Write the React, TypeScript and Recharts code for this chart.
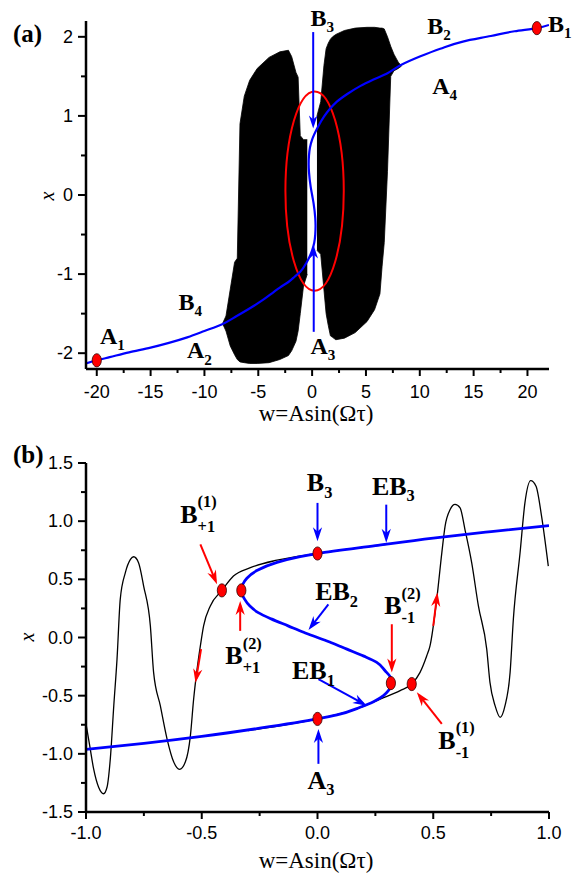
import { ComposedChart, Line, Area, Scatter, XAxis, YAxis, ReferenceLine, ReferenceDot, ReferenceArea } from 'recharts';

const SERIF = '"Liberation Serif", "Times New Roman", Times, serif';
const SANS = '"Liberation Sans", Arial, Helvetica, sans-serif';
const BLUE = '#0000ff';
const RED = '#ff0000';

// ---------- panel (a) ----------
// equilibrium curve, x against w
const curveW_a = [-21, -20, -18.8, -17, -15, -13.3, -11.6, -10, -8.3, -7, -5.4, -4.5, -3.6, -3, -2.2, -1.6, -1.1, -0.5, 0, 0.2, 0.29, 0.32, 0.29, 0.13, 0, -0.13, -0.29, -0.32, -0.29, -0.2, 0, 0.5, 1.1, 1.6, 2.3, 3.3, 4.5, 5.7, 7.0, 8.2, 10, 11.9, 14, 16.6, 18.8, 20.9, 22];
const curveX_a = [-2.13, -2.09, -2.05, -1.99, -1.93, -1.87, -1.8, -1.72, -1.63, -1.53, -1.4, -1.32, -1.23, -1.17, -1.1, -1.03, -0.97, -0.85, -0.7, -0.6, -0.5, -0.39, -0.29, -0.1, 0, 0.1, 0.29, 0.39, 0.5, 0.6, 0.7, 0.85, 0.99, 1.08, 1.18, 1.28, 1.38, 1.46, 1.54, 1.64, 1.75, 1.85, 1.94, 2.01, 2.07, 2.11, 2.15];

// envelope of the dense oscillation, left and right blocks
const leftW_a = [-8.3, -8.0, -7.6, -7.2, -6.95, -6.7, -6.3, -5.8, -5.1, -4.0, -3.0, -2.2, -1.9, -1.5, -1.3, -1.1, -0.8, -0.45];
const leftLow_a = [-1.63, -1.72, -1.91, -2.02, -2.08, -2.11, -2.12, -2.13, -2.13, -2.12, -2.08, -2.03, -1.97, -1.85, -1.72, -1.5, -1.15, -1.0];
const leftHigh_a = [-1.62, -1.53, -1.19, -0.85, -0.8, 0.9, 1.25, 1.45, 1.6, 1.74, 1.81, 1.83, 1.75, 1.55, 1.49, 0.75, 0.7, 0.7];
const rightW_a = [0.45, 0.8, 1.1, 1.3, 1.5, 1.7, 1.9, 2.2, 3.0, 4.0, 5.1, 5.8, 6.3, 6.5, 6.7, 7.0, 7.3, 7.6, 8.0, 8.3];
const rightLow_a = [-0.7, -0.75, -1.2, -1.5, -1.65, -1.78, -1.8, -1.83, -1.81, -1.74, -1.6, -1.45, -1.25, -0.9, -0.6, 0.3, 1.5, 1.57, 1.6, 1.63];
const rightHigh_a = [1.0, 1.18, 1.64, 1.85, 1.92, 1.97, 2.0, 2.03, 2.08, 2.11, 2.12, 2.12, 2.11, 2.11, 2.1, 2.0, 1.88, 1.78, 1.68, 1.63];

const dotW_a = [-20, 20.87];
const dotX_a = [-2.09, 2.11];

const xTicks_a = [-20, -17.5, -15, -12.5, -10, -7.5, -5, -2.5, 0, 2.5, 5, 7.5, 10, 12.5, 15, 17.5, 20];
const yTicks_a = [-2, -1.5, -1, -0.5, 0, 0.5, 1, 1.5, 2];

// ---------- panel (b) ----------
const curveW_b = [-1, -0.75, -0.5, -0.25, 0, 0.084, 0.184, 0.242, 0.285, 0.306, 0.318, 0.321, 0.315, 0.292, 0.256, 0.2, 0.127, 0.06, 0, -0.06, -0.127, -0.2, -0.256, -0.292, -0.315, -0.329, -0.322, -0.305, -0.262, -0.175, -0.075, 0, 0.25, 0.5, 0.75, 1];
const curveX_b = [-0.962, -0.91, -0.85, -0.78, -0.7, -0.666, -0.6, -0.552, -0.5, -0.457, -0.42, -0.386, -0.34, -0.286, -0.214, -0.16, -0.1, -0.045, 0, 0.045, 0.1, 0.16, 0.214, 0.27, 0.33, 0.405, 0.46, 0.51, 0.575, 0.645, 0.695, 0.722, 0.79, 0.855, 0.91, 0.962];

const blackW1_b = [-1, -0.984, -0.967, -0.945, -0.924, -0.909, -0.895, -0.88, -0.866, -0.852, -0.83, -0.808, -0.794, -0.773, -0.751, -0.722, -0.708, -0.679, -0.65, -0.621, -0.596, -0.571, -0.549, -0.535, -0.52, -0.506, -0.492, -0.463, -0.413, -0.363, -0.29, -0.175, 0, 0.3];
const blackX1_b = [-0.743, -0.93, -1.13, -1.29, -1.343, -1.285, -1.043, -0.586, -0.186, 0.33, 0.557, 0.671, 0.694, 0.643, 0.442, 0.1, -0.3, -0.586, -0.871, -1.071, -1.134, -1.071, -0.843, -0.529, -0.27, -0.072, 0.1, 0.271, 0.405, 0.528, 0.6, 0.665, 0.722, 0.8];
const blackW2_b = [-0.3, 0, 0.17, 0.271, 0.357, 0.407, 0.443, 0.472, 0.486, 0.515, 0.537, 0.551, 0.573, 0.594, 0.616, 0.637, 0.666, 0.695, 0.731, 0.745, 0.767, 0.789, 0.81, 0.832, 0.846, 0.875, 0.896, 0.921, 0.944, 0.968, 0.997];
const blackX2_b = [-0.8, -0.7, -0.614, -0.529, -0.457, -0.4, -0.3, -0.157, -0.072, 0.328, 0.728, 0.956, 1.1, 1.144, 1.114, 0.928, 0.643, 0.271, -0.1, -0.386, -0.586, -0.686, -0.586, -0.3, 0.157, 0.728, 1.157, 1.348, 1.3, 1.042, 0.614];

const dotW_b = [-0.413, -0.329, 0, 0.317, 0.407, 0];
const dotX_b = [0.405, 0.405, 0.722, -0.392, -0.4, -0.7];

const xTicks_b = [-1, -0.75, -0.5, -0.25, 0, 0.25, 0.5, 0.75, 1];
const yTicks_b = [-1.5, -1.25, -1, -0.75, -0.5, -0.25, 0, 0.25, 0.5, 0.75, 1, 1.25, 1.5];

// ---------- annotations ----------
const arrows_a = [
  { from: [0.1, 2.06], to: [0.1, 0.84], color: BLUE },
  { from: [0.15, -1.73], to: [0.15, -0.64], color: BLUE },
];
const labels_a = [
  { w: -0.16, x: 2.14, main: 'B', sub: '3' },
  { w: 10.7, x: 2.04, main: 'B', sub: '2' },
  { w: 11.16, x: 1.28, main: 'A', sub: '4' },
  { w: 21.9, x: 2.06, main: 'B', sub: '1' },
  { w: -19.7, x: -1.886, main: 'A', sub: '1' },
  { w: -12.4, x: -1.456, main: 'B', sub: '4' },
  { w: -11.63, x: -2.067, main: 'A', sub: '2' },
  { w: -0.16, x: -2.01, main: 'A', sub: '3' },
];
const ellipse_a = { w1: -2.48, w2: 2.94, x1: -1.21, x2: 1.31 };

const arrows_b = [
  { from: [-0.506, 0.8], to: [-0.434, 0.458], color: RED },
  { from: [-0.334, 0.057], to: [-0.334, 0.314], color: RED },
  { from: [-0.503, -0.1], to: [-0.527, -0.39], color: RED },
  { from: [0.5, 0.1], to: [0.518, 0.386], color: RED },
  { from: [0.321, 0.114], to: [0.321, -0.3], color: RED },
  { from: [0.537, -0.743], to: [0.429, -0.471], color: RED },
  { from: [0, 1.157], to: [0, 0.828], color: BLUE },
  { from: [0.297, 1.142], to: [0.297, 0.814], color: BLUE },
  { from: [0.047, 0.285], to: [-0.039, 0.065], color: BLUE },
  { from: [0.004, -0.357], to: [0.213, -0.586], color: BLUE },
  { from: [0.004, -1.086], to: [0.004, -0.786], color: BLUE },
];
const labels_b = [
  { w: -0.593, x: 0.988, main: 'B', sup: '(1)', sub: '+1' },
  { w: -0.046, x: 1.256, main: 'B', sub: '3' },
  { w: 0.235, x: 1.228, main: 'EB', sub: '3' },
  { w: -0.01, x: 0.32, main: 'EB', sub: '2' },
  { w: 0.288, x: 0.2, main: 'B', sup: '(2)', sub: '-1' },
  { w: -0.398, x: -0.229, main: 'B', sup: '(2)', sub: '+1' },
  { w: -0.11, x: -0.357, main: 'EB', sub: '1' },
  { w: -0.043, x: -1.3, main: 'A', sub: '3' },
  { w: 0.522, x: -0.957, main: 'B', sup: '(1)', sub: '-1' },
];

const zip = (w: number[], x: number[]) => w.map((v, i) => ({ w: v, x: x[i] }));
const band = (w: number[], lo: number[], hi: number[]) => w.map((v, i) => ({ w: v, range: [lo[i], hi[i]] }));

const axisStyle = { stroke: '#000', strokeWidth: 2.5 };

const xTick = (isMajor: (v: number) => boolean, fmt: (v: number) => string, gap: number, size: number) => (p: any) => {
  const { x, y, payload } = p;
  const major = isMajor(payload.value);
  return (
    <g>
      <line x1={x} y1={y} x2={x} y2={y + (major ? 7 : 4)} stroke="#000" strokeWidth={2} />
      {major && (
        <text x={x} y={y + gap} textAnchor="middle" style={{ fontFamily: SANS }} fontSize={size} fill="#000">
          {fmt(payload.value)}
        </text>
      )}
    </g>
  );
};

const yTick = (isMajor: (v: number) => boolean, fmt: (v: number) => string, size: number) => (p: any) => {
  const { x, y, payload } = p;
  const major = isMajor(payload.value);
  return (
    <g>
      <line x1={x - (major ? 8 : 5)} y1={y} x2={x} y2={y} stroke="#000" strokeWidth={2} />
      {major && (
        <text x={x - 13} y={y + 6} textAnchor="end" style={{ fontFamily: SANS }} fontSize={size} fill="#000">
          {fmt(payload.value)}
        </text>
      )}
    </g>
  );
};

const arrowShape = (color: string, head: number) => (p: any) => {
  const { x1, y1, x2, y2 } = p;
  const dx = x2 - x1;
  const dy = y2 - y1;
  const len = Math.hypot(dx, dy) || 1;
  const ux = dx / len;
  const uy = dy / len;
  const bx = x2 - ux * head;
  const by = y2 - uy * head;
  const hw = head * 0.33;
  const nx = x2 - ux * head * 0.7;
  const ny = y2 - uy * head * 0.7;
  return (
    <g>
      <line x1={x1} y1={y1} x2={x2 - ux * 4} y2={y2 - uy * 4} stroke={color} strokeWidth={2} />
      <polygon
        points={`${x2},${y2} ${bx - uy * hw},${by + ux * hw} ${nx},${ny} ${bx + uy * hw},${by - ux * hw}`}
        fill={color}
      />
    </g>
  );
};

const letterWidth: Record<string, number> = { A: 0.722, B: 0.667, E: 0.667 };

const labelShape = (l: any, size: number) => (p: any) => {
  const { cx, cy } = p;
  const mw = l.main.split('').reduce((s: number, c: string) => s + (letterWidth[c] || 0.6), 0) * size;
  const small = size * 0.63;
  return (
    <g style={{ fontFamily: SERIF }} fontWeight="bold" fill="#000">
      <text x={cx} y={cy} fontSize={size}>{l.main}</text>
      {l.sup && <text x={cx + mw} y={cy - size * 0.6} fontSize={small}>{l.sup}</text>}
      {l.sub && <text x={cx + mw} y={cy + size * (l.sup ? 0.35 : 0.26)} fontSize={small}>{l.sub}</text>}
    </g>
  );
};

const redDot = (p: any) => (
  <ellipse cx={p.cx} cy={p.cy} rx={4.6} ry={6.6} fill={RED} stroke="#300" strokeWidth={0.8} />
);

const ellipseShape = (p: any) => (
  <ellipse cx={p.x + p.width / 2} cy={p.y + p.height / 2} rx={p.width / 2} ry={p.height / 2} fill="none" stroke={RED} strokeWidth={2} />
);

function PanelA() {
  return (
    <ComposedChart width={579} height={428} margin={{ top: 21, right: 30, bottom: 0, left: 0 }}>
      <XAxis
        type="number" dataKey="w" domain={[-21, 22]} ticks={xTicks_a} interval={0} allowDataOverflow
        tickSize={0} tickMargin={0} tickLine={false} axisLine={axisStyle} height={59}
        tick={xTick((v) => v % 5 === 0, (v) => String(v), 29, 18)}
      />
      <YAxis
        type="number" dataKey="x" domain={[-2.2, 2.2]} ticks={yTicks_a} interval={0} allowDataOverflow
        tickSize={0} tickMargin={0} tickLine={false} axisLine={axisStyle} width={86}
        tick={yTick((v) => Number.isInteger(v), (v) => String(v), 18)}
      />
      <Area data={band(leftW_a, leftLow_a, leftHigh_a)} dataKey="range" type="linear" stroke="#000" strokeWidth={0.8} fill="#000" fillOpacity={1} isAnimationActive={false} dot={false} activeDot={false} />
      <Area data={band(rightW_a, rightLow_a, rightHigh_a)} dataKey="range" type="linear" stroke="#000" strokeWidth={0.8} fill="#000" fillOpacity={1} isAnimationActive={false} dot={false} activeDot={false} />
      <ReferenceArea x1={ellipse_a.w1} x2={ellipse_a.w2} y1={ellipse_a.x1} y2={ellipse_a.x2} shape={ellipseShape} ifOverflow="visible" />
      <Line data={zip(curveW_a, curveX_a)} dataKey="x" type="monotoneY" stroke={BLUE} strokeWidth={2.2} dot={false} activeDot={false} isAnimationActive={false} />
      {arrows_a.map((a, i) => (
        <ReferenceLine key={'aa' + i} segment={[{ x: a.from[0], y: a.from[1] }, { x: a.to[0], y: a.to[1] }]} shape={arrowShape(a.color, 13)} ifOverflow="visible" />
      ))}
      <Scatter data={zip(dotW_a, dotX_a)} dataKey="x" shape={redDot} isAnimationActive={false} />
      {labels_a.map((l, i) => (
        <ReferenceDot key={'la' + i} x={l.w} y={l.x} r={0} shape={labelShape(l, 24)} ifOverflow="visible" />
      ))}
      <text x={13} y={42} style={{ fontFamily: SERIF }} fontWeight="bold" fontSize={25} fill="#000">(a)</text>
      <text x={316} y={421} textAnchor="middle" style={{ fontFamily: SERIF }} fontSize={23} fill="#000">w=Asin(Ωτ)</text>
      <text x={46.5} y={196} textAnchor="middle" dominantBaseline="central" transform="rotate(-90 46.5 196)" style={{ fontFamily: SERIF }} fontStyle="italic" fontSize={20} fill="#000">x</text>
    </ComposedChart>
  );
}

function PanelB() {
  const fmt = (v: number) => v.toFixed(1);
  const major = (v: number) => Math.abs(v * 2 - Math.round(v * 2)) < 1e-9;
  return (
    <ComposedChart width={579} height={447} margin={{ top: 35, right: 30, bottom: 0, left: 0 }}>
      <XAxis
        type="number" dataKey="w" domain={[-1, 1]} ticks={xTicks_b} interval={0} allowDataOverflow
        tickSize={0} tickMargin={0} tickLine={false} axisLine={axisStyle} height={63}
        tick={xTick(major, fmt, 27, 18)}
      />
      <YAxis
        type="number" dataKey="x" domain={[-1.5, 1.5]} ticks={yTicks_b} interval={0} allowDataOverflow
        tickSize={0} tickMargin={0} tickLine={false} axisLine={axisStyle} width={86}
        tick={yTick(major, fmt, 18)}
      />
      <Line data={zip(blackW1_b, blackX1_b)} dataKey="x" type="monotone" stroke="#000" strokeWidth={1.3} dot={false} activeDot={false} isAnimationActive={false} />
      <Line data={zip(blackW2_b, blackX2_b)} dataKey="x" type="monotone" stroke="#000" strokeWidth={1.3} dot={false} activeDot={false} isAnimationActive={false} />
      <Line data={zip(curveW_b, curveX_b)} dataKey="x" type="monotoneY" stroke={BLUE} strokeWidth={2.8} dot={false} activeDot={false} isAnimationActive={false} />
      {arrows_b.map((a, i) => (
        <ReferenceLine key={'ab' + i} segment={[{ x: a.from[0], y: a.from[1] }, { x: a.to[0], y: a.to[1] }]} shape={arrowShape(a.color, 14)} ifOverflow="visible" />
      ))}
      <Scatter data={zip(dotW_b, dotX_b)} dataKey="x" shape={redDot} isAnimationActive={false} />
      {labels_b.map((l, i) => (
        <ReferenceDot key={'lb' + i} x={l.w} y={l.x} r={0} shape={labelShape(l, 26)} ifOverflow="visible" />
      ))}
      <text x={13} y={35} style={{ fontFamily: SERIF }} fontWeight="bold" fontSize={25} fill="#000">(b)</text>
      <text x={316} y={440} textAnchor="middle" style={{ fontFamily: SERIF }} fontSize={23} fill="#000">w=Asin(Ωτ)</text>
      <text x={27} y={209} textAnchor="middle" dominantBaseline="central" transform="rotate(-90 27 209)" style={{ fontFamily: SERIF }} fontStyle="italic" fontSize={20} fill="#000">x</text>
    </ComposedChart>
  );
}

export default function App() {
  return (
    <div style={{ position: 'fixed', left: 0, top: 0, width: 579, height: 875, background: '#fff' }}>
      <div style={{ position: 'absolute', left: 0, top: 0 }}>
        <PanelA />
      </div>
      <div style={{ position: 'absolute', left: 0, top: 428 }}>
        <PanelB />
      </div>
    </div>
  );
}
